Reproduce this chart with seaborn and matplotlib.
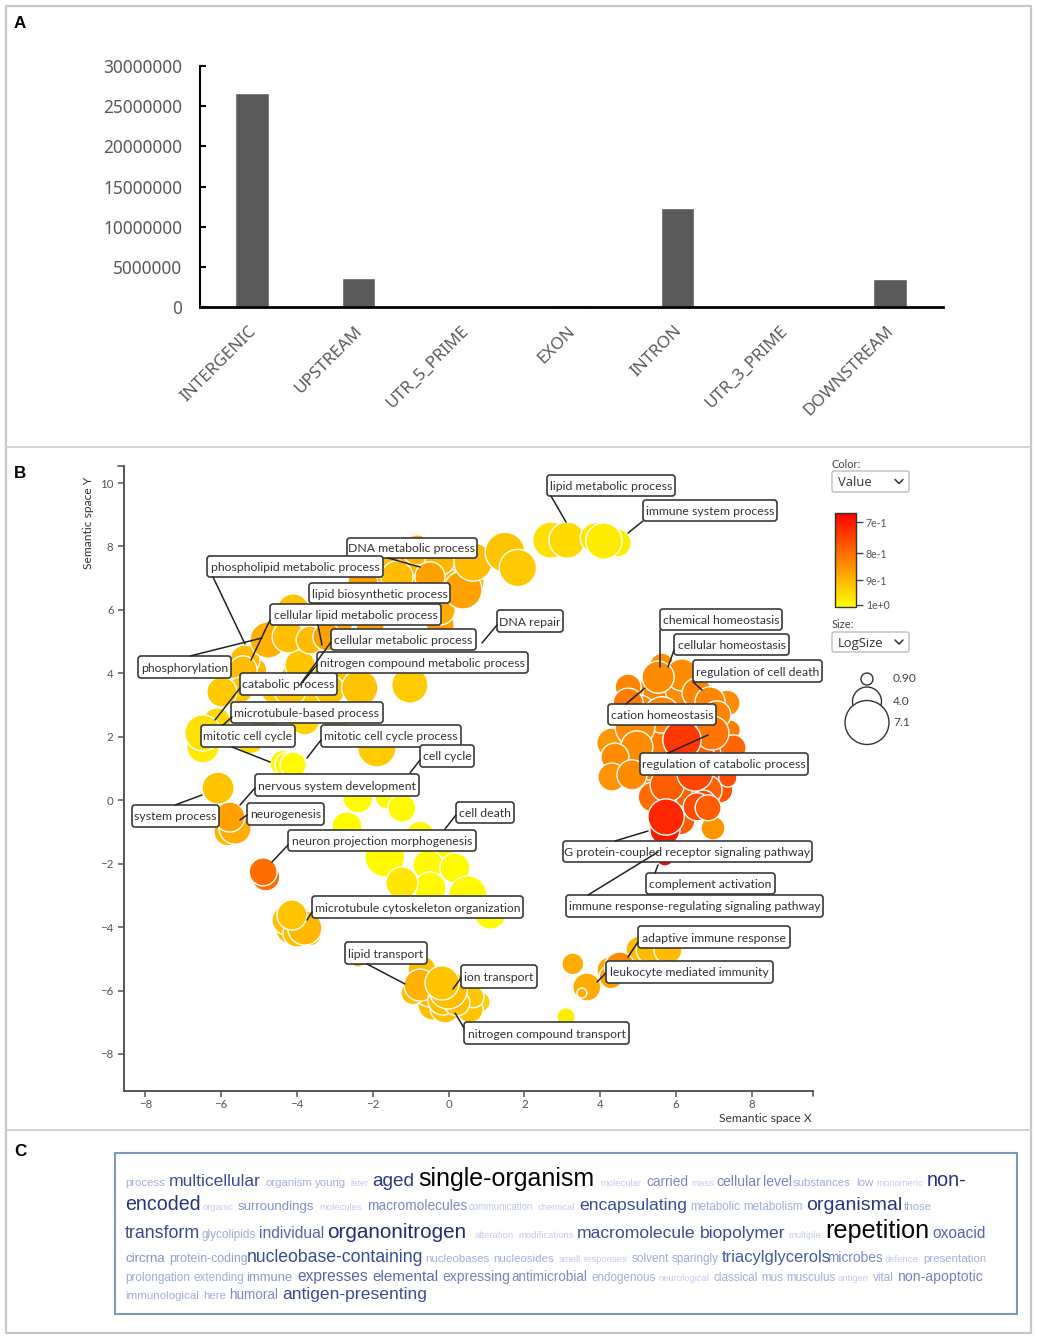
import matplotlib
matplotlib.use("Agg")
import matplotlib.pyplot as plt
import numpy as np
import pandas as pd
import seaborn as sns
from matplotlib.cm import ScalarMappable
from matplotlib.colors import LogNorm
from matplotlib.patches import Circle, FancyBboxPatch, Rectangle
from matplotlib.transforms import ScaledTranslation

WIDTH, HEIGHT = 1037, 1339

# panel A
regions = ["INTERGENIC", "UPSTREAM", "UTR_5_PRIME", "EXON", "INTRON", "UTR_3_PRIME", "DOWNSTREAM"]
region_counts = [26700000, 3550000, 30000, 200000, 12300000, 60000, 3500000]
count_ticks = [0, 5000000, 10000000, 15000000, 20000000, 25000000, 30000000]

# panel B, bubbles listed back to front
sem_x = [6.37, 5.32, 5.84, 6.64, 5.32, 6.37, 7.16, 5.98, 6.77, 5.05, -0.75, -3.92, -2.86, -0.22,
         5.58, 6.37, 5.32, 5.84, 5.32, 6.64, 7.30, 5.58, 7.16, 6.11, 6.77, 5.05, 6.11,
         -1.02, -1.68, -1.28, -0.22, -3.92, -2.99, -4.31, -3.52, -4.58,
         -3.92, -4.18, -0.41, -0.09, -0.49, 0.36,
         2.70, 3.13, 4.45, 3.87, 4.10,
         -2.34, -1.68, -0.83, -1.36, -2.26, -0.62, -0.22, 0.57, -0.01, -0.22, -0.49, 0.38, 0.65, 1.49, 1.83,
         -4.10, -2.07, -2.86, -5.11, -5.37, -5.42, -4.76, -4.23, -3.65, -3.21,
         -2.99, -3.79, -4.84, -5.50, -5.98, -4.18, -3.13, -2.34, -1.02,
         -6.11, -6.48, -6.48, -5.24, -1.89, -4.37, -4.24, -4.10, -6.08,
         -2.39, -1.62, -1.23, -2.68, -0.75, -0.09, -1.68, -0.54, 0.17, 1.10, 0.51, -0.49, -1.23, 3.10,
         -5.82, -5.63, -5.77, -4.82, -4.89,
         -3.65, -4.26, -4.00, -3.79, -4.13,
         -2.39, 0.83, 0.57, 0.65, -0.94, -0.70, -0.75, -0.15, 0.22, -0.01, -0.17,
         3.28, 3.65, 3.52, 5.05, 5.32, 5.79, 4.26, 4.29, 4.52,
         5.63, 6.16, 4.74, 4.74, 6.56, 7.35, 7.43, 6.90, 7.08, 5.63, 5.53, 4.31, 4.92, 4.97, 4.39, 4.31, 4.84,
         7.51, 7.37, 6.29, 6.98, 5.40, 6.37, 6.82, 6.72, 6.56, 6.85, 6.95, 5.77, 6.50, 6.16, 5.71, 5.71, 5.74]
sem_y = [3.17, 3.17, 2.06, 2.06, 0.95, 0.95, 1.27, 0.01, 0.32, 1.90, 6.79, 3.79, 3.95, 7.42,
         3.32, 2.85, 2.53, 1.27, 1.11, 1.27, 1.11, 1.74, 0.32, -0.62, 0.80, 2.84, 3.48,
         7.26, 6.95, 6.31, 5.53, 4.27, 4.17, 3.00, 3.00, 3.47,
         -3.84, -4.09, -6.46, -6.55, -5.98, -5.98,
         8.20, 8.20, 8.11, 8.27, 8.17,
         7.41, 7.57, 7.89, 7.04, 6.85, 6.31, 6.00, 6.85, 6.85, 7.57, 7.04, 6.63, 7.51, 7.82, 7.32,
         6.00, 5.52, 5.68, 4.11, 4.42, 4.11, 5.05, 5.15, 5.05, 5.15,
         2.53, 2.53, 2.53, 3.47, 3.41, 3.47, 3.47, 3.54, 3.63,
         2.47, 1.68, 2.12, 1.90, 1.65, 1.17, 1.11, 1.11, 0.38,
         0.07, 0.10, -0.25, -0.84, -1.10, -1.41, -1.79, -2.04, -2.14, -3.56, -2.99, -2.77, -2.61, -6.83,
         -1.00, -0.88, -0.53, -2.42, -2.26,
         -4.25, -3.78, -4.19, -4.03, -3.62,
         -5.04, -6.36, -6.61, -6.20, -6.07, -5.35, -5.83, -6.30, -6.39, -5.98, -5.76,
         -5.16, -5.89, -6.08, -4.72, -4.72, -4.72, -5.35, -5.57, -5.26,
         4.26, 3.95, 3.57, 3.06, 3.38, 3.06, 2.21, 3.10, 2.69, 2.69, 3.88, 1.80, 2.31, 1.68, 1.36, 0.73, 0.80,
         1.65, 0.70, 2.43, -0.88, 0.10, 0.23, 0.32, -0.09, -0.21, -0.24, 2.12, 0.48, 0.86, 1.90, -1.79, -0.94, -0.53]
log_size = [6.3, 6.3, 6.3, 5.6, 5.6, 6.3, 4.8, 5.6, 5.2, 5.6, 6.3, 6.3, 6.3, 5.6,
            5.2, 5.6, 5.2, 5.2, 4.4, 4.8, 3.6, 4.4, 3.6, 4.4, 4.4, 4.4, 4.4,
            5.2, 4.8, 4.4, 4.0, 4.4, 4.4, 4.4, 4.4, 4.0,
            4.4, 4.0, 4.4, 4.4, 5.2, 3.6,
            5.6, 5.6, 4.0, 4.4, 5.6,
            4.0, 4.4, 4.4, 4.8, 4.4, 4.4, 4.4, 4.0, 4.0, 4.4, 4.4, 6.0, 6.0, 6.3, 5.8,
            4.8, 4.0, 4.0, 3.2, 4.4, 4.0, 5.6, 4.8, 4.0, 4.0,
            3.6, 4.4, 3.6, 3.6, 4.4, 4.8, 4.4, 5.6, 5.6,
            4.0, 4.8, 5.6, 4.0, 6.0, 3.6, 3.6, 3.6, 4.8,
            4.4, 3.2, 4.0, 4.4, 4.0, 3.6, 6.3, 4.4, 4.4, 4.8, 6.0, 4.8, 4.8, 2.1,
            4.0, 4.8, 4.4, 4.0, 4.0,
            2.8, 4.4, 4.0, 5.2, 4.4,
            1.3, 2.5, 3.6, 2.8, 3.2, 4.0, 4.8, 4.4, 3.6, 6.0, 5.2,
            2.8, 4.0, 0.5, 4.0, 4.0, 4.0, 3.6, 3.2, 4.4,
            3.2, 4.8, 3.6, 4.4, 4.4, 3.6, 2.5, 4.4, 4.0, 5.6, 4.8, 4.4, 6.3, 4.8, 4.0, 4.0, 4.4,
            3.6, 2.1, 4.0, 3.2, 4.4, 4.8, 4.4, 3.6, 4.0, 3.6, 5.2, 5.2, 5.6, 6.0, 2.1, 4.4, 5.6]
go_value = [0.83, 0.83, 0.82, 0.80, 0.82, 0.77, 0.78, 0.78, 0.77, 0.84, 0.90, 0.92, 0.92, 0.90,
            0.83, 0.82, 0.84, 0.80, 0.82, 0.78, 0.78, 0.82, 0.77, 0.78, 0.77, 0.84, 0.84,
            0.90, 0.90, 0.90, 0.87, 0.92, 0.92, 0.93, 0.93, 0.93,
            0.91, 0.91, 0.91, 0.91, 0.90, 0.91,
            0.96, 0.95, 0.98, 0.97, 0.98,
            0.90, 0.90, 0.90, 0.907, 0.86, 0.885, 0.885, 0.90, 0.90, 0.90, 0.87, 0.87, 0.907, 0.918, 0.925,
            0.918, 0.87, 0.88, 0.90, 0.907, 0.907, 0.89, 0.91, 0.907, 0.87,
            0.94, 0.94, 0.95, 0.92, 0.925, 0.92, 0.92, 0.918, 0.93,
            0.95, 0.975, 0.96, 0.95, 0.93, 1.0, 1.0, 1.0, 0.918,
            1.0, 1.0, 1.0, 1.0, 1.0, 1.0, 1.0, 1.0, 1.0, 1.0, 1.0, 1.0, 0.97, 0.98,
            0.90, 0.885, 0.87, 0.80, 0.80,
            0.91, 0.91, 0.91, 0.90, 0.918,
            0.90, 0.93, 0.92, 0.92, 0.91, 0.91, 0.89, 0.91, 0.91, 0.91, 0.918,
            0.885, 0.885, 0.885, 0.907, 0.907, 0.907, 0.875, 0.875, 0.84,
            0.85, 0.84, 0.83, 0.82, 0.83, 0.84, 0.82, 0.83, 0.83, 0.83, 0.84, 0.855, 0.84, 0.84, 0.84, 0.85, 0.84,
            0.79, 0.76, 0.80, 0.85, 0.80, 0.785, 0.785, 0.76, 0.76, 0.78, 0.81, 0.78, 0.75, 0.735, 0.68, 0.70, 0.715]

# label text, box left, top, right, bottom, then leader lines, in page pixels
bubble_labels = [
    ("lipid metabolic process", 547, 475, 675, 496, [(551, 496, 566, 522)]),
    ("immune system process", 643, 500, 777, 521, [(643, 521, 628, 533)]),
    ("DNA metabolic process", 347, 538, 477, 558, [(388, 558, 420, 567)]),
    ("phospholipid metabolic process", 207, 556, 383, 577, [(213, 577, 245, 644)]),
    ("lipid biosynthetic process", 309, 583, 450, 603, []),
    ("cellular lipid metabolic process", 270, 604, 441, 625, [(270, 620, 251, 660), (318, 625, 322, 645)]),
    ("DNA repair", 497, 610, 563, 632, [(497, 625, 482, 643)]),
    ("phosphorylation", 138, 656, 231, 678, [(190, 656, 262, 638)]),
    ("catabolic process", 240, 673, 337, 695, [(240, 688, 215, 720)]),
    ("cellular metabolic process", 331, 629, 476, 650, [(331, 642, 302, 682)]),
    ("nitrogen compound metabolic process", 317, 652, 528, 673, [(317, 665, 300, 685)]),
    ("microtubule-based process", 231, 702, 383, 723, [(232, 717, 223, 725)]),
    ("mitotic cell cycle", 201, 725, 295, 747, [(232, 747, 270, 762)]),
    ("mitotic cell cycle process", 321, 725, 461, 747, [(321, 740, 307, 758)]),
    ("cell cycle", 420, 745, 474, 767, [(420, 760, 410, 773)]),
    ("nervous system development", 255, 774, 419, 796, [(255, 788, 240, 805)]),
    ("system process", 132, 805, 219, 827, [(175, 805, 202, 795)]),
    ("neurogenesis", 247, 803, 324, 825, [(247, 815, 240, 820)]),
    ("cell death", 456, 802, 514, 823, [(456, 815, 445, 829)]),
    ("neuron projection morphogenesis", 288, 830, 476, 851, [(288, 845, 272, 862)]),
    ("microtubule cytoskeleton organization", 312, 896, 523, 918, [(312, 912, 307, 920)]),
    ("lipid transport", 345, 942, 427, 964, [(367, 964, 405, 984)]),
    ("ion transport", 461, 965, 537, 988, [(461, 978, 453, 989)]),
    ("nitrogen compound transport", 464, 1022, 629, 1044, [(464, 1028, 455, 1013)]),
    ("chemical homeostasis", 660, 609, 782, 630, [(660, 630, 660, 667)]),
    ("cellular homeostasis", 674, 634, 789, 655, [(674, 650, 668, 667)]),
    ("regulation of cell death", 693, 660, 822, 682, [(693, 682, 702, 690)]),
    ("cation homeostasis", 608, 704, 716, 725, [(626, 704, 645, 688)]),
    ("regulation of catabolic process", 640, 753, 808, 775, [(668, 753, 708, 735)]),
    ("G protein-coupled receptor signaling pathway", 563, 841, 812, 862, [(615, 841, 648, 831)]),
    ("complement activation", 646, 873, 775, 894, [(655, 873, 658, 865)]),
    ("immune response-regulating signaling pathway", 566, 895, 823, 917, [(588, 895, 658, 852)]),
    ("adaptive immune response", 638, 926, 790, 948, [(638, 942, 628, 957)]),
    ("leukocyte mediated immunity", 606, 961, 773, 983, [(606, 973, 597, 982)]),
]

# panel C, one list per line: word, left edge, font size in px
cloud_lines = [
    (1186, [("process", 125, 11.4), ("multicellular", 169, 17.5), ("organism", 265, 11.4), ("young", 315, 11.4),
            ("later", 350, 9.4), ("aged", 372, 19), ("single-organism", 418, 25), ("molecular", 600, 9.5),
            ("carried", 646, 13.7), ("mass", 691, 9.5), ("cellular", 716, 14), ("level", 763, 14),
            ("substances", 793, 11.5), ("low", 856, 11.5), ("monomeric", 876, 9.5), ("non-", 927, 20)]),
    (1210, [("encoded", 125, 19.6), ("organic", 203, 9.5), ("surroundings", 238, 13.3), ("molecules", 319, 9.5),
            ("macromolecules", 367, 13.7), ("communication", 469, 9.7), ("chemical", 538, 9.5),
            ("encapsulating", 579, 17.5), ("metabolic", 690, 11.6), ("metabolism", 743, 11.6),
            ("organismal", 806, 19.5), ("those", 904, 11.5)]),
    (1238, [("transform", 125, 17.8), ("glycolipids", 202, 11.7), ("individual", 259, 15.6), ("organonitrogen", 327, 20.7),
            ("alteration", 475, 9.5), ("modifications", 518, 9.5), ("macromolecule", 577, 17.5),
            ("biopolymer", 700, 17.5), ("multiple", 788, 9.5), ("repetition", 825, 25.3), ("oxoacid", 932, 15.5)]),
    (1262, [("circrna", 125, 13.3), ("protein-coding", 169, 12.4), ("nucleobase-containing", 247, 17.6),
            ("nucleobases", 425, 11.5), ("nucleosides", 493, 11.5), ("smell", 559, 9.5), ("responses", 583, 9.5),
            ("solvent", 632, 11.7), ("sparingly", 672, 11.7), ("triacylglycerols", 722, 16.5), ("microbes", 827, 13.7),
            ("defence", 885, 9.5), ("presentation", 923, 11.5)]),
    (1281, [("prolongation", 125, 11.8), ("extending", 193, 11.6), ("immune", 246, 13), ("expresses", 297, 15.5),
            ("elemental", 372, 15.3), ("expressing", 442, 14), ("antimicrobial", 511, 13.5), ("endogenous", 591, 11.6),
            ("neurological", 658, 9.5), ("classical", 714, 11.6), ("mus", 761, 11.6), ("musculus", 786, 11.6),
            ("antigen", 838, 9.5), ("vital", 873, 11.6), ("non-apoptotic", 897, 14)]),
    (1299, [("immunological", 125, 11.5), ("here", 203, 11.5), ("humoral", 229, 13.5),
            ("antigen-presenting", 282, 17.5)]),
]


def px_axes(left, top, right, bottom):
    return fig.add_axes([left / WIDTH, 1 - bottom / HEIGHT, (right - left) / WIDTH, (bottom - top) / HEIGHT])


def pt(px):
    # font size in points for a size read in pixels at 100 dpi
    return px * 0.72


sns.set_theme(style="white")
plt.rcParams["font.family"] = ["Lato", "DejaVu Sans"]

fig = plt.figure(figsize=(WIDTH / 100, HEIGHT / 100), dpi=100)

# ---- panel A ----
ax_a = px_axes(200, 66, 943, 307)
sns.barplot(x=regions, y=region_counts, color="#5a5a5a", saturation=1, width=0.315, ax=ax_a)
ax_a.set_xlim(-0.489, 6.499)
ax_a.set_ylim(0, 30000000)
ax_a.set_yticks(count_ticks, [str(c) for c in count_ticks], family="Noto Sans", fontsize=12.4, color="#595959")
ax_a.tick_params(axis="y", direction="in", length=4.3, width=1.5, color="black", pad=12.7, left=True)
ax_a.tick_params(axis="x", length=0, pad=11.5)
ax_a.set_xticks(range(len(regions)))
ax_a.set_xticklabels(regions, rotation=45, ha="right", rotation_mode="anchor",
                     family="Noto Sans", fontsize=12.3, color="#595959")
nudge = ScaledTranslation(-4 / 100, 0, fig.dpi_scale_trans)
for tick_label in ax_a.get_xticklabels():
    tick_label.set_transform(tick_label.get_transform() + nudge)
sns.despine(ax=ax_a)
for side in ["left", "bottom"]:
    ax_a.spines[side].set_color("black")
ax_a.spines["left"].set_linewidth(1.5)
ax_a.spines["bottom"].set_linewidth(2)

# ---- panel B ----
bubbles = pd.DataFrame({"x": sem_x, "y": sem_y, "log_size": log_size, "value": go_value})
# diameter grows linearly with LogSize (legend: 0.90 -> 12 px, 7.1 -> 44 px), scatter wants area in pt^2
bubbles["area"] = ((12 + (bubbles["log_size"] - 0.9) * 5.16) * 0.72) ** 2

heat = sns.blend_palette(["#ff0000", "#ffff00"], as_cmap=True)
value_norm = LogNorm(vmin=0.673, vmax=1.009)

ax_b = px_axes(124, 466, 813, 1091)
sns.scatterplot(data=bubbles, x="x", y="y", hue="value", size="area", palette=heat, hue_norm=value_norm,
                sizes=(10, 1200), size_norm=(10, 1200), edgecolor="white", linewidth=1, alpha=1,
                legend=False, ax=ax_b)
ax_b.set_xlim(-8.562, 9.617)
ax_b.set_ylim(-9.168, 10.536)
ax_b.set_xticks(range(-8, 9, 2))
ax_b.set_yticks(range(-8, 11, 2))
ax_b.set_xlabel("")
ax_b.set_ylabel("")
ax_b.tick_params(axis="both", length=4.5, width=1.1, color="#555555", labelsize=8.3, labelcolor="#555555",
                 left=True, bottom=True, pad=3)
ax_b.tick_params(axis="x", pad=1.5)
sns.despine(ax=ax_b)
for side in ["left", "bottom"]:
    ax_b.spines[side].set_color("#555555")
    ax_b.spines[side].set_linewidth(1.4)

# ---- colour key, red end on top ----
ax_key = px_axes(835, 513, 856, 607)
key = fig.colorbar(ScalarMappable(norm=value_norm, cmap=heat), cax=ax_key)
key.set_ticks([0.7, 0.8, 0.9, 1.0], labels=["7e-1", "8e-1", "9e-1", "1e+0"])
key.minorticks_off()
ax_key.invert_yaxis()
key.ax.tick_params(length=5, width=1, color="#444444", labelsize=7.6, labelcolor="#555555", right=True, pad=2)
key.outline.set_edgecolor("#333333")
key.outline.set_linewidth(1)

# ---- everything else sits on a page sized overlay in pixels ----
page = fig.add_axes([0, 0, 1, 1], zorder=10)
page.set_xlim(0, WIDTH)
page.set_ylim(HEIGHT, 0)
page.axis("off")
page.patch.set_alpha(0)

page.add_patch(Rectangle((5.5, 6), 1025.5, 1327, fill=False, ec="#c8c8c8", lw=1.6))
page.plot([6, 1031], [447, 447], color="#cfcfcf", lw=1.3)
page.plot([6, 1031], [1130, 1130], color="#cfcfcf", lw=1.3)
for letter, y in [("A", 24), ("B", 473), ("C", 1151)]:
    page.text(14, y, letter, family="Liberation Sans", fontweight="bold", fontsize=pt(17), color="black", va="center")

page.text(88, 523, "Semantic space Y", rotation=90, ha="center", va="center", fontsize=pt(12), color="#333333")
page.text(812, 1119, "Semantic space X", ha="right", va="center", fontsize=pt(12), color="#333333")
page.plot([124, 118], [466, 466], color="#555555", lw=1.2)
page.plot([813, 813], [1091, 1096], color="#555555", lw=1.2)

for name, left, top, right, bottom, leaders in bubble_labels:
    page.add_patch(FancyBboxPatch((left, top), right - left, bottom - top,
                                  boxstyle="round,pad=0,rounding_size=3", fc="white", ec="#3a3a3a", lw=1.2))
    page.text((left + right) / 2, (top + bottom) / 2, name, ha="center", va="center_baseline",
              fontsize=pt(12.3), color="#333333")
    for x0, y0, x1, y1 in leaders:
        page.plot([x0, x1], [y0, y1], color="#222222", lw=1.1)

# dropdowns
for caption, choice, cap_y, top, bottom in [("Color:", "Value", 464, 471, 492), ("Size:", "LogSize", 625, 632, 652)]:
    page.text(832, cap_y, caption, va="center", fontsize=pt(11), color="#444444")
    page.add_patch(FancyBboxPatch((832, top), 77, bottom - top, boxstyle="round,pad=0,rounding_size=2",
                                  fc="white", ec="#bdbdbd", lw=1))
    page.text(838, (top + bottom) / 2 + 1, choice, va="center", family="Open Sans", fontsize=pt(13), color="#333333")
    mid = (top + bottom) / 2
    page.plot([895, 899, 903], [mid - 2, mid + 2, mid - 2], color="#333333", lw=1.1)

# size key
for diameter, y, size_text in [(29, 701.5, "4.0"), (12, 679, "0.90"), (44, 722.5, "7.1")]:
    page.add_patch(Circle((867, y), diameter / 2, fc="white", ec="#333333", lw=1))
    page.text(893, y, size_text, va="center", fontsize=pt(12), color="#444444")

# word cloud
page.add_patch(Rectangle((114.5, 1152.5), 902, 161.5, fill=False, ec="#7d97bf", lw=1.5))
cloud_cmap = sns.blend_palette(["#c3cbf0", "#8f9cd8", "#5163ad", "#2a3a88", "#1c2566", "#050508"], as_cmap=True)
for baseline, words in cloud_lines:
    for word, left, size in words:
        page.text(left, baseline, word, family="Liberation Sans", fontsize=pt(size), va="baseline",
                  color=cloud_cmap(np.clip((size - 9.5) / 15.5, 0, 1)))

fig.savefig("out.png", dpi=100, facecolor="white")
